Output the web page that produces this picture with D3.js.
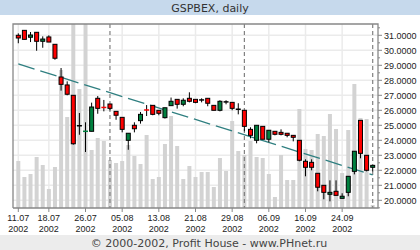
<!DOCTYPE html>
<html>
<head>
<meta charset="utf-8">
<script src="https://cdn.jsdelivr.net/npm/d3@7"></script>
<style>
  body { margin: 0; background: #fff; }
  svg { display: block; }
</style>
</head>
<body>
<div class="canvas"></div>
<script>
// Data (values in thousands)
const open  = [31.00,31.33,30.87,31.20,30.60,30.89,30.40,28.22,27.69,27.00,24.97,24.58,24.60,26.80,26.19,26.42,25.93,25.53,24.00,25.00,
               25.31,26.02,26.33,26.00,25.51,26.31,26.73,26.40,26.80,26.73,26.69,26.80,26.33,26.00,26.56,26.53,26.07,26.00,24.73,24.00,
               24.93,24.07,24.60,24.53,24.47,24.33,24.00,22.60,22.53,21.80,21.00,20.40,20.60,20.13,20.53,21.93,25.33,23.00,22.20];
const high  = [31.13,31.35,31.22,31.22,30.93,31.00,30.40,28.82,27.93,27.00,25.82,25.20,26.51,26.95,26.69,26.42,25.93,25.53,24.47,25.20,
               25.89,26.35,26.33,26.00,26.17,26.85,26.73,26.80,27.20,26.73,26.80,26.80,26.33,26.67,26.67,26.53,26.47,26.00,24.87,25.00,
               24.93,24.67,24.60,24.73,24.47,24.33,24.00,22.73,22.73,21.80,21.00,21.33,21.33,20.47,21.60,23.27,25.33,23.00,22.33];
const low   = [30.47,30.73,30.55,29.97,30.17,30.55,29.37,27.31,27.00,23.71,24.37,23.22,24.60,25.77,25.93,26.00,25.37,24.53,23.37,24.53,
               25.11,25.62,25.67,25.67,25.45,26.31,26.11,26.27,26.53,26.47,26.53,26.27,26.00,25.93,26.40,26.00,25.73,24.60,24.13,23.80,
               24.07,23.87,24.33,24.33,24.20,23.93,22.60,21.60,22.00,20.60,20.07,19.93,20.33,20.13,20.27,21.73,22.80,21.93,21.93];
const close = [30.82,30.73,31.02,30.60,30.75,30.55,29.47,27.73,27.07,23.77,24.97,24.60,26.22,26.13,26.17,26.13,25.67,24.73,24.47,24.77,
               25.73,26.00,25.73,25.80,26.17,26.60,26.40,26.67,26.60,26.53,26.69,26.47,26.00,26.60,26.56,26.13,26.07,24.93,24.33,25.00,
               24.07,24.67,24.40,24.40,24.33,24.20,22.67,22.20,22.20,20.87,20.53,20.53,20.33,20.27,21.60,23.27,23.13,22.00,22.33];
const volume = [47,31,34,51,43,19,41,138,91,200,119,200,58,70,67,48,45,47,63,52,
                44,73,29,31,64,92,62,29,42,31,36,36,21,50,37,87,57,53,67,51,
                50,34,11,53,28,28,99,59,58,74,72,94,79,35,78,124,90,89,3];

const tickIndex = [0, 5, 11, 17, 23, 29, 35, 41, 47, 53];
const tickLabel = ['11.07', '18.07', '26.07', '05.08', '13.08', '21.08', '29.08', '06.09', '16.09', '24.09'];
const monthStart = [15, 37, 58];
const trend = [29.09, 21.69]; // start / end of trend line
const priceTicks = [20, 21, 22, 23, 24, 25, 26, 27, 28, 29, 30, 31];

// Layout
const width = 420, height = 250;
const plot = { left: 13, right: 378, top: 24, bottom: 208 };

const svg = d3.select('.canvas')
    .append('svg')
    .attr('width', width)
    .attr('height', height);

const x = d3.scaleLinear().domain([0, 58]).range([18.3, 372.7]);
const y = d3.scaleLinear().domain([20, 31]).range([200.3, 35.3]);
const v = d3.scaleLinear().domain([0, 184]).range([plot.bottom, plot.top]);

// Title and footer bands
svg.append('rect').attr('width', width).attr('height', 15).attr('fill', '#c6d9ec');
svg.append('text')
    .attr('x', 210).attr('y', 11.5)
    .attr('text-anchor', 'middle')
    .style('font', '11px "DejaVu Sans"')
    .attr('fill', '#333')
    .text('GSPBEX, daily');

svg.append('rect').attr('y', 235).attr('width', width).attr('height', 15).attr('fill', '#ececec');
svg.append('text')
    .attr('x', 209).attr('y', 247)
    .attr('text-anchor', 'middle')
    .style('font', '11px "DejaVu Sans"')
    .attr('fill', '#444')
    .text('© 2000-2002, Profit House - www.PHnet.ru');

svg.append('clipPath').attr('id', 'clip')
    .append('rect')
    .attr('x', plot.left).attr('y', plot.top)
    .attr('width', plot.right - plot.left).attr('height', plot.bottom - plot.top);

const g = svg.append('g').attr('clip-path', 'url(#clip)');

// Grid
g.selectAll('.hgrid').data(priceTicks).enter().append('line')
    .attr('x1', plot.left).attr('x2', plot.right)
    .attr('y1', d => y(d)).attr('y2', d => y(d))
    .attr('stroke', '#ebebeb').attr('stroke-width', 1.5);
g.selectAll('.vgrid').data(tickIndex).enter().append('line')
    .attr('x1', d => x(d)).attr('x2', d => x(d))
    .attr('y1', plot.top).attr('y2', plot.bottom)
    .attr('stroke', '#ebebeb').attr('stroke-width', 1.5);

// Volume
g.selectAll('.vol').data(volume).enter().append('rect')
    .attr('x', (d, i) => x(i) - 2)
    .attr('width', 4)
    .attr('y', d => v(d))
    .attr('height', d => plot.bottom - v(d))
    .attr('fill', '#d3d3d3');

// Month separators
g.selectAll('.month').data(monthStart).enter().append('line')
    .attr('x1', d => x(d)).attr('x2', d => x(d))
    .attr('y1', plot.top).attr('y2', plot.bottom)
    .attr('stroke', '#808080').attr('stroke-width', 1.2)
    .attr('stroke-dasharray', '4,3');

// Trend line
g.append('line')
    .attr('x1', x(0)).attr('y1', y(trend[0]))
    .attr('x2', x(58)).attr('y2', y(trend[1]))
    .attr('stroke', '#2f7f80').attr('stroke-width', 1.3)
    .attr('stroke-dasharray', '17,6');

// Candles
const candle = g.selectAll('.candle').data(open).enter().append('g');

candle.append('line')
    .attr('x1', (d, i) => x(i)).attr('x2', (d, i) => x(i))
    .attr('y1', (d, i) => y(high[i])).attr('y2', (d, i) => y(low[i]))
    .attr('stroke', '#000').attr('stroke-width', 1);

candle.each(function(d, i) {
    const sel = d3.select(this);
    const up = close[i] > open[i];
    const col = up ? '#00803f' : '#ff0000';
    const top = y(Math.max(open[i], close[i]));
    const h = Math.abs(y(open[i]) - y(close[i]));
    if (h < 1.5) {
        sel.append('line')
            .attr('x1', x(i) - 2.5).attr('x2', x(i) + 2.5)
            .attr('y1', top).attr('y2', top)
            .attr('stroke', open[i] === close[i] ? '#000' : col)
            .attr('stroke-width', 1.5);
    } else {
        sel.append('rect')
            .attr('x', x(i) - 2).attr('width', 4)
            .attr('y', top).attr('height', h)
            .attr('fill', col)
            .attr('stroke', '#000').attr('stroke-width', 1);
    }
});

// Frame
svg.append('path')
    .attr('d', `M${plot.left},${plot.bottom}V${plot.top}H${plot.right}V${plot.bottom}H${plot.left}`)
    .attr('fill', 'none').attr('stroke', '#888').attr('stroke-width', 1.3);

// Right price axis
const yAxis = svg.append('g');
yAxis.selectAll('.minor').data(d3.range(19.5, 31.51, 0.5)).enter().append('line')
    .attr('x1', plot.right).attr('x2', d => plot.right + (d % 1 === 0 ? 4 : 2))
    .attr('y1', d => y(d)).attr('y2', d => y(d))
    .attr('stroke', '#888');
yAxis.selectAll('text').data(priceTicks).enter().append('text')
    .attr('x', 384).attr('y', d => y(d) + 3.5)
    .style('font', '9px "Liberation Sans"')
    .attr('fill', '#222')
    .text(d => d3.format('.4f')(d));

// Date axis
const xAxis = svg.append('g');
xAxis.selectAll('line').data(tickIndex).enter().append('line')
    .attr('x1', d => x(d)).attr('x2', d => x(d))
    .attr('y1', plot.bottom).attr('y2', plot.bottom + 4)
    .attr('stroke', '#888');
xAxis.selectAll('.d').data(tickIndex).enter().append('text')
    .attr('x', d => x(d)).attr('y', 221)
    .attr('text-anchor', 'middle')
    .style('font', '9px "Liberation Sans"')
    .attr('fill', '#222')
    .text((d, i) => tickLabel[i]);
xAxis.selectAll('.yr').data(tickIndex).enter().append('text')
    .attr('x', d => x(d)).attr('y', 232)
    .attr('text-anchor', 'middle')
    .style('font', '9px "Liberation Sans"')
    .attr('fill', '#222')
    .text('2002');
</script>
</body>
</html>
